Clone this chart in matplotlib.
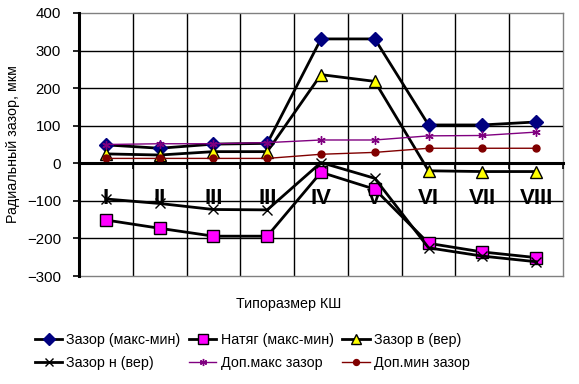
import numpy as np
import matplotlib
matplotlib.use("Agg")
import matplotlib.pyplot as plt

plt.rcParams['font.family'] = ['Liberation Sans', 'DejaVu Sans']

categories = ["I", "II", "III", "III", "IV", "V", "VI", "VII", "VIII"]
zazor_maxmin = [49, 40, 51, 53, 331, 331, 102, 102, 110]
natyag_maxmin = [-151, -173, -194, -194, -24, -69, -213, -236, -251]
zazor_v = [25, 22, 31, 31, 236, 218, -20, -22, -22]
zazor_n = [-95, -107, -123, -124, 2, -40, -225, -247, -262]
dop_max = [50, 52, 52, 55, 62, 62, 73, 74, 83]
dop_min = [13, 13, 13, 13, 24, 29, 40, 40, 40]

W, H = 579, 384
fig = plt.figure(figsize=(W / 100, H / 100), dpi=100)
ax = fig.add_axes([79 / W, 1 - 276 / H, (563 - 79) / W, (276 - 13) / H])

FS = 10.3

x = np.arange(len(categories))
h1, = ax.plot(x, zazor_maxmin, color='black', lw=2, marker='D', ms=7,
              mfc='#000080', mec='#000080', label='Зазор (макс-мин)')
h2, = ax.plot(x, natyag_maxmin, color='black', lw=2, marker='s', ms=8,
              mfc='#FF00FF', mec='black', mew=1, label='Натяг (макс-мин)')
h3, = ax.plot(x, zazor_v, color='black', lw=2, marker='^', ms=8,
              mfc='#FFFF00', mec='black', mew=1, label='Зазор в (вер)')
h4, = ax.plot(x, zazor_n, color='black', lw=2, marker='x', ms=7,
              mec='black', mew=1, label='Зазор н (вер)')
h5, = ax.plot(x, dop_max, color='#800080', lw=1, marker=(6, 2, 0), ms=6,
              mec='#800080', mew=1, label='Доп.макс зазор')
h6, = ax.plot(x, dop_min, color='#800000', lw=1, marker='o', ms=5,
              mfc='#800000', mec='#800000', label='Доп.мин зазор')

ax.set_xlim(-0.5, len(categories) - 0.5)
ax.set_ylim(-300, 400)

ax.spines['bottom'].set_position(('data', 0))
ax.spines['bottom'].set_linewidth(2.2)
ax.spines['left'].set_linewidth(2.2)
ax.spines['top'].set_visible(False)
ax.spines['right'].set_visible(False)

# y axis
ax.set_yticks(np.arange(-300, 401, 100))
ax.tick_params(axis='y', direction='out', length=4, width=1.2, pad=9,
               labelsize=10.8, colors='black')
ax.yaxis.grid(True, color='black', lw=1)
glines = ax.get_ygridlines()
for gl in (glines[0], glines[-1]):
    gl.set_color('#808080')
    gl.set_clip_on(False)

# x axis: boundaries as major ticks + grid, labels at centers
ax.set_xticks(np.arange(-0.5, len(categories)))
ax.set_xticklabels([])
ax.set_xticks(x, minor=True)
ax.tick_params(axis='x', which='major', direction='out', length=4, width=1.2)
ax.tick_params(axis='x', which='minor', length=0, pad=18, labelsize=16)
ax.set_xticklabels(categories, minor=True, fontsize=16, fontweight='bold')
ax.xaxis.grid(True, which='major', color='black', lw=1)
xg = ax.get_xgridlines()
xg[-1].set_color('#808080')
xg[-1].set_clip_on(False)
ax.set_axisbelow(True)

ax.set_ylabel('Радиальный зазор, мкм', fontsize=FS)
ax.yaxis.set_label_coords((20 - 79) / (563 - 79), 0.5)

fig.text(289 / W, 1 - 304 / H, 'Типоразмер КШ', ha='center', va='center',
         fontsize=FS)

handles = [h1, h4, h2, h5, h3, h6]
fig.legend(handles=handles, labels=[h.get_label() for h in handles],
           ncol=3, loc='upper left', bbox_to_anchor=(35 / W, 1 - 333 / H),
           frameon=False, fontsize=FS, borderpad=0, borderaxespad=0,
           handlelength=1.9, handletextpad=0.3, columnspacing=0.6,
           labelspacing=0.65, markerscale=0.85)

fig.savefig('out.png', dpi=100)
